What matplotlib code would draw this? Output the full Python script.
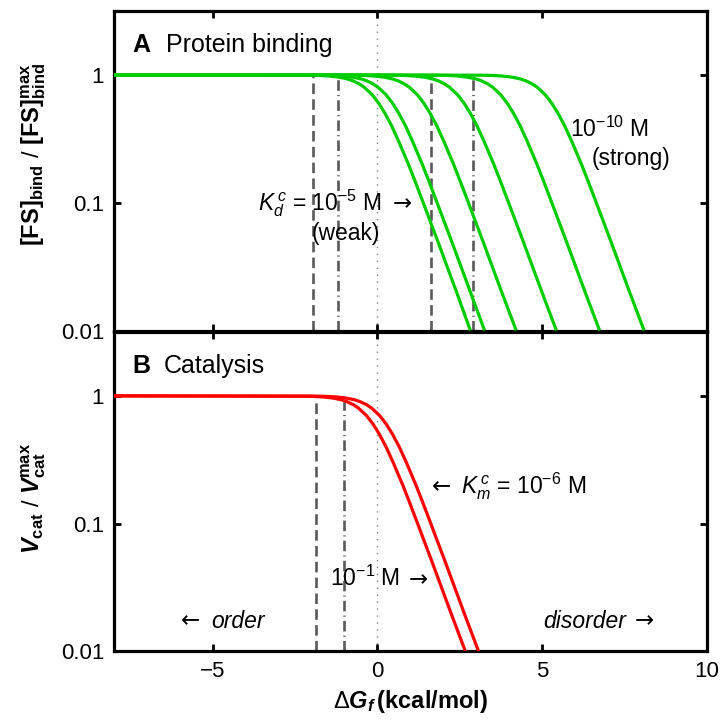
import matplotlib
matplotlib.use("Agg")
import matplotlib.pyplot as plt
from matplotlib.ticker import FixedLocator, NullLocator, FixedFormatter

plt.rcParams['font.family'] = ['Liberation Sans', 'DejaVu Sans']
plt.rcParams['mathtext.fontset'] = 'custom'
plt.rcParams['mathtext.rm'] = 'Liberation Sans'
plt.rcParams['mathtext.it'] = 'Liberation Sans:italic'
plt.rcParams['mathtext.bf'] = 'Liberation Sans:bold'
plt.rcParams['mathtext.bfit'] = 'Liberation Sans:bold:italic'

# Response levels at which each curve's folding free energy was sampled
levels = [1.0, 0.995, 0.99, 0.98, 0.96, 0.93, 0.9, 0.85, 0.8, 0.7, 0.6,
          0.5, 0.4, 0.3, 0.2, 0.15, 0.1, 0.05, 0.02, 0.01]

# Protein binding: dG_f (kcal/mol) at each level, one curve per K_d^c (M)
bind_kd5 = [-8.0, -2.04, -1.75, -1.46, -1.16, -0.91, -0.75, -0.55, -0.40,
            -0.16, 0.04, 0.23, 0.43, 0.65, 0.94, 1.13, 1.39, 1.83, 2.40, 2.82]
bind_kd6 = [-8.0, -1.62, -1.33, -1.04, -0.74, -0.49, -0.33, -0.13, 0.02,
            0.26, 0.46, 0.65, 0.85, 1.07, 1.36, 1.55, 1.81, 2.25, 2.82, 3.25]
bind_kd7 = [-8.0, -0.67, -0.38, -0.09, 0.21, 0.46, 0.62, 0.82, 0.97,
            1.21, 1.41, 1.60, 1.80, 2.02, 2.31, 2.50, 2.76, 3.20, 3.77, 4.21]
bind_kd8 = [-8.0, 0.55, 0.84, 1.13, 1.43, 1.68, 1.84, 2.04, 2.19,
            2.43, 2.63, 2.82, 3.02, 3.24, 3.53, 3.72, 3.98, 4.42, 4.99, 5.43]
bind_kd9 = [-8.0, 1.86, 2.15, 2.44, 2.74, 2.99, 3.15, 3.35, 3.50,
            3.74, 3.94, 4.13, 4.33, 4.55, 4.84, 5.03, 5.29, 5.73, 6.30, 6.74]
bind_kd10 = [-8.0, 3.21, 3.50, 3.79, 4.09, 4.34, 4.50, 4.70, 4.85,
             5.09, 5.29, 5.48, 5.68, 5.90, 6.19, 6.38, 6.64, 7.08, 7.65, 8.09]

# Catalysis: one curve per K_m^c (M)
cat_km1 = [-8.0, -2.21, -1.92, -1.63, -1.33, -1.08, -0.92, -0.72, -0.57,
           -0.33, -0.13, 0.06, 0.26, 0.48, 0.77, 0.96, 1.22, 1.66, 2.23, 2.67]
cat_km6 = [-8.0, -1.81, -1.52, -1.23, -0.93, -0.68, -0.52, -0.32, -0.17,
           0.07, 0.27, 0.46, 0.66, 0.88, 1.17, 1.36, 1.62, 2.06, 2.63, 3.07]

# Stability thresholds marked by vertical lines
bind_dashed = [-1.96, 1.61]
bind_dashdot = [-1.21, 2.89]
cat_dashed = [-1.85]
cat_dashdot = [-1.01]

xticks = [-5, 0, 5, 10]
xtick_labels = ['\u22125', '0', '5', '10']
yticks = [0.01, 0.1, 1]
ytick_labels = ['0.01', '0.1', '1']

GREEN = (0.0, 0.8, 0.0)
RED = (1.0, 0.0, 0.0)
GREY = (0.35, 0.35, 0.35)
YMIN, YMAX = 0.01, 10 ** 0.5
TXT = 16.5
ARROW_FONT = 'DejaVu Sans'
RIGHT_ARROW = '\u2192'
LEFT_ARROW = '\u2190'

fig = plt.figure(figsize=(7.2, 7.25), dpi=100)
ax_a = fig.add_axes([0.158, 0.5441, 0.824, 0.4407])
ax_b = fig.add_axes([0.158, 0.1014, 0.824, 0.4407])


def style_axes(ax, show_xlabels):
    ax.set_yscale('log')
    ax.set_xlim(-8, 10)
    ax.set_ylim(YMIN, YMAX)
    ax.yaxis.set_major_locator(FixedLocator(yticks))
    ax.yaxis.set_major_formatter(FixedFormatter(ytick_labels))
    ax.yaxis.set_minor_locator(NullLocator())
    ax.xaxis.set_major_locator(FixedLocator(xticks))
    ax.xaxis.set_minor_locator(NullLocator())
    if show_xlabels:
        ax.set_xticklabels(xtick_labels)
    else:
        ax.set_xticklabels([])
    ax.tick_params(which='major', direction='in', length=5, width=2,
                   top=True, right=True, labelsize=16, pad=7)
    for s in ax.spines.values():
        s.set_linewidth(2.3)
    ax.axvline(0, color=(0.5, 0.5, 0.5), lw=1.0, ls=(0, (1, 4)), zorder=1)


def thresholds(ax, dashed, dashdot):
    for x in dashed:
        ax.plot([x, x], [YMIN, 1.0], color=GREY, lw=1.9,
                ls=(0, (4, 2)), zorder=2)
    for x in dashdot:
        ax.plot([x, x], [YMIN, 1.0], color=GREY, lw=1.9,
                ls=(0, (4, 1.6, 0.4, 1.6)), zorder=2)


def arrow(ax, x, y, glyph, ha):
    ax.text(x, y, glyph, fontsize=TXT, family=ARROW_FONT, va='baseline',
            ha=ha)


# Panel A: protein binding
style_axes(ax_a, False)
thresholds(ax_a, bind_dashed, bind_dashdot)
for xs in [bind_kd5, bind_kd6, bind_kd7, bind_kd8, bind_kd9, bind_kd10]:
    ax_a.plot(xs, levels, color=GREEN, lw=2.3, zorder=3,
              solid_joinstyle='round', solid_capstyle='butt')

ax_a.text(-7.44, 1.5, 'A', fontsize=18, fontweight='bold', va='baseline')
ax_a.text(-6.41, 1.5, 'Protein binding', fontsize=18, va='baseline')
ax_a.text(-3.63, 0.0875, r'$K_d^{\,c}$ = 10$^{-5}$ M',
          fontsize=TXT, va='baseline')
arrow(ax_a, 1.05, 0.0875, RIGHT_ARROW, 'right')
ax_a.text(-0.97, 0.051, '(weak)', fontsize=TXT, va='baseline', ha='center')
ax_a.text(5.84, 0.329, r'10$^{-10}$ M', fontsize=TXT, va='baseline')
ax_a.text(7.69, 0.197, '(strong)', fontsize=TXT, va='baseline', ha='center')
ax_a.set_ylabel(r'$\mathbf{[FS]_{bind}}$ / $\mathbf{[FS]^{max}_{bind}}$',
                fontsize=17)
ax_a.yaxis.set_label_coords(-0.11, 0.55)

# Panel B: catalysis
style_axes(ax_b, True)
thresholds(ax_b, cat_dashed, cat_dashdot)
for xs in [cat_km1, cat_km6]:
    ax_b.plot(xs, levels, color=RED, lw=2.3, zorder=3,
              solid_joinstyle='round', solid_capstyle='butt')

ax_b.text(-7.44, 1.5, 'B', fontsize=18, fontweight='bold', va='baseline')
ax_b.text(-6.47, 1.5, 'Catalysis', fontsize=18, va='baseline')
arrow(ax_b, 1.64, 0.174, LEFT_ARROW, 'left')
ax_b.text(2.55, 0.174, r'$K_m^{\,c}$ = 10$^{-6}$ M',
          fontsize=TXT, va='baseline')
ax_b.text(-1.43, 0.0326, r'10$^{-1}$ M', fontsize=TXT, va='baseline')
arrow(ax_b, 1.54, 0.0326, RIGHT_ARROW, 'right')
arrow(ax_b, -5.96, 0.0154, LEFT_ARROW, 'left')
ax_b.text(-5.05, 0.0154, 'order', fontsize=TXT, style='italic',
          va='baseline')
ax_b.text(5.02, 0.0154, 'disorder', fontsize=TXT, style='italic',
          va='baseline')
arrow(ax_b, 8.38, 0.0154, RIGHT_ARROW, 'right')
ax_b.set_ylabel(r'$\mathbfit{V}_{\mathbf{cat}}$ / $\mathbfit{V}^{\mathbf{max}}_{\mathbf{cat}}$',
                fontsize=17)
ax_b.yaxis.set_label_coords(-0.11, 0.48)
ax_b.set_xlabel(r'$\Delta\mathbfit{G}_{\mathbfit{f}}\,$(kcal/mol)', fontsize=17,
                fontweight='bold', labelpad=4)

fig.savefig('out.png', dpi=100)
